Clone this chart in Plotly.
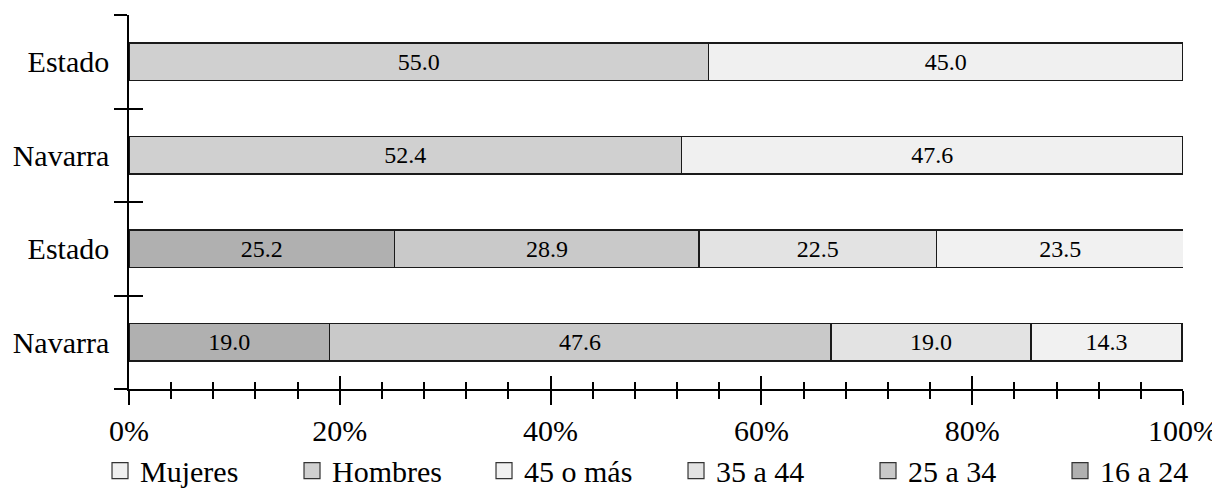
import plotly.graph_objects as go

# ---- data ----
row_labels = ["Estado", "Navarra", "Estado", "Navarra"]   # top to bottom
sex_names = ["Hombres", "Mujeres"]
sex_values = {"Hombres": [55.0, 52.4], "Mujeres": [45.0, 47.6]}          # Estado, Navarra
age_names = ["16 a 24", "25 a 34", "35 a 44", "45 o más"]
age_values = {
    "16 a 24": [25.2, 19.0],
    "25 a 34": [28.9, 47.6],
    "35 a 44": [22.5, 19.0],
    "45 o más": [23.5, 14.3],
}
legend_order = ["Mujeres", "Hombres", "45 o más", "35 a 44", "25 a 34", "16 a 24"]
x_ticks = [0, 20, 40, 60, 80, 100]

colors = {
    "Mujeres": "#f0f0f0",
    "Hombres": "#d0d0d0",
    "45 o más": "#f1f1f1",
    "35 a 44": "#e3e3e3",
    "25 a 34": "#c9c9c9",
    "16 a 24": "#b0b0b0",
}

FONT = "Liberation Serif"
n = len(row_labels)
ypos = [n - 1 - i for i in range(n)]          # top row highest
sex_y = ypos[:2]
age_y = ypos[2:]
bounds = [i - 0.5 for i in range(n + 1)]

fig = go.Figure()

def add_bar(name, xs, ys):
    fig.add_trace(go.Bar(
        x=xs, y=ys, orientation="h", name=name, width=0.4,
        marker=dict(color=colors[name], line=dict(color="#1a1a1a", width=1.5)),
        texttemplate="%{x:.1f}", textposition="inside", insidetextanchor="middle",
        textfont=dict(family=FONT, size=24, color="black"),
        constraintext="none", showlegend=False, hoverinfo="skip",
    ))

for nm in sex_names:
    add_bar(nm, sex_values[nm], sex_y)
for nm in age_names:
    add_bar(nm, age_values[nm], age_y)

# legend entries
for nm in legend_order:
    fig.add_trace(go.Scatter(
        x=[None], y=[None], mode="markers", name=nm, xaxis="x2", yaxis="y",
        marker=dict(symbol="square", size=30, color=colors[nm],
                    line=dict(color="#333333", width=1.2)),
        showlegend=True, hoverinfo="skip",
    ))
# helper so the secondary y axis is drawn
fig.add_trace(go.Scatter(x=[None], y=[None], xaxis="x", yaxis="y2",
                         mode="markers", showlegend=False, hoverinfo="skip"))

fig.update_layout(
    width=1212, height=485,
    margin=dict(l=121, r=37, t=7, b=104, autoexpand=False),
    paper_bgcolor="white", plot_bgcolor="white",
    barmode="stack", bargap=0.6,
    font=dict(family=FONT, size=30, color="black"),
    xaxis=dict(
        range=[0, 100], tickmode="array", tickvals=x_ticks,
        ticktext=[f"{v}%" for v in x_ticks],
        ticks="outside", ticklen=14, tickwidth=1.5, tickcolor="black",
        showline=True, linecolor="black", linewidth=1.5,
        showgrid=False, zeroline=False, fixedrange=True,
        ticklabelstandoff=0, automargin=False,
        minor=dict(dtick=4, ticks="outside", ticklen=8, tickwidth=1.5,
                   tickcolor="black", showgrid=False),
        tickfont=dict(family=FONT, size=30, color="black"),
    ),
    xaxis2=dict(
        range=[0, 100], overlaying="x", anchor="y", side="bottom",
        tickmode="array", tickvals=x_ticks, showticklabels=False,
        ticks="inside", ticklen=13, tickwidth=1.5, tickcolor="black",
        showline=False, showgrid=False, zeroline=False, fixedrange=True,
        minor=dict(dtick=4, ticks="inside", ticklen=7, tickwidth=1.5,
                   tickcolor="black", showgrid=False),
    ),
    yaxis=dict(
        range=[-0.5, n - 0.5], tickmode="array", tickvals=ypos, ticktext=row_labels,
        ticks="outside", ticklen=13, tickcolor="rgba(0,0,0,0)",
        showline=True, linecolor="black", linewidth=1.5,
        showgrid=False, zeroline=False, fixedrange=True,
        ticklabelstandoff=-1, automargin=False,
        minor=dict(tickmode="array", tickvals=bounds, ticks="outside", ticklen=13,
                   tickwidth=1.5, tickcolor="black", showgrid=False),
        tickfont=dict(family=FONT, size=30, color="black"),
    ),
    yaxis2=dict(
        range=[-0.5, n - 0.5], overlaying="y", anchor="x", side="left",
        tickmode="array", tickvals=bounds, showticklabels=False,
        ticks="inside", ticklen=14, tickwidth=1.5, tickcolor="black",
        showline=False, showgrid=False, zeroline=False, fixedrange=True,
    ),
    legend=dict(
        orientation="h", x=-0.0275, xanchor="left", y=-0.218, yanchor="middle",
        entrywidth=147, entrywidthmode="pixels", itemsizing="trace",
        font=dict(family=FONT, size=30, color="black"),
        bgcolor="rgba(0,0,0,0)", borderwidth=0, traceorder="normal",
    ),
    showlegend=True,
)

fig.write_html("out.html")
